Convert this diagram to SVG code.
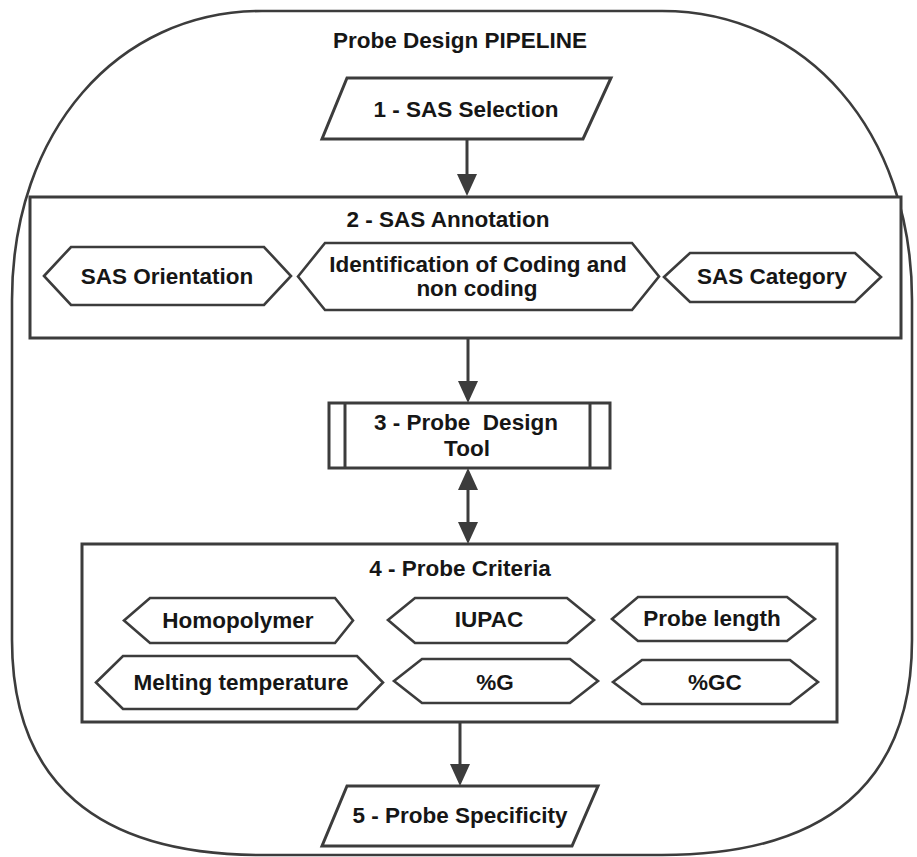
<svg xmlns="http://www.w3.org/2000/svg" width="917" height="857" viewBox="0 0 917 857">
<style>
.t{font-family:"Liberation Sans",Arial,sans-serif;font-weight:bold;font-size:22.5px;fill:#161616;text-anchor:middle}
.box{fill:#fff;stroke:#3c3c3c;stroke-width:3}
.hex{fill:#fff;stroke:#3c3c3c;stroke-width:2.6;stroke-linejoin:miter}
.con{fill:none;stroke:#3c3c3c;stroke-width:3}
</style>
<defs>
<marker id="ah" markerUnits="userSpaceOnUse" markerWidth="22" markerHeight="22" refX="0" refY="11" orient="auto-start-reverse" viewBox="0 0 22 22">
<path d="M0,1 L22,11 L0,21 Z" fill="#3c3c3c"/>
</marker>
</defs>
<rect width="917" height="857" fill="#fff"/>
<g id="frame">
<path d="M12,300 C12,132 117,11 262,11 H662 C807,11 912,132 912,300 V640 C912,782 827,855 662,855 H262 C97,855 12,782 12,640 Z" fill="none" stroke="#3c3c3c" stroke-width="2.6"/>
<text class="t" x="460" y="48">Probe Design PIPELINE</text>
</g>
<g id="n1">
<polygon class="box" points="347,78 611,78 583,139 322,139"/>
<text class="t" x="466" y="117">1 - SAS Selection</text>
</g>
<g id="n2">
<rect class="box" x="30" y="197" width="871" height="141"/>
<text class="t" x="448" y="227">2 - SAS Annotation</text>
</g>
<g id="n2a">
<polygon class="hex" points="44,276 71,247 264,247 291,276 264,305 71,305"/>
<text class="t" x="167" y="284">SAS Orientation</text>
</g>
<g id="n2b">
<polygon class="hex" points="298,276.5 325,243 632,243 659,276.5 632,310 325,310"/>
<text class="t" x="478" y="272">Identification of Coding and</text>
<text class="t" x="477" y="296">non coding</text>
</g>
<g id="n2c">
<polygon class="hex" points="664,277 690,253 855,253 881,277 855,302 690,302"/>
<text class="t" x="772" y="284">SAS Category</text>
</g>
<g id="n3">
<rect class="box" x="329" y="403" width="281" height="65"/>
<line class="con" x1="345" y1="403" x2="345" y2="468"/>
<line class="con" x1="590" y1="403" x2="590" y2="468"/>
<text class="t" x="466" y="430" xml:space="preserve">3 - Probe  Design</text>
<text class="t" x="467" y="456">Tool</text>
</g>
<g id="n4">
<rect class="box" x="82" y="544" width="755" height="178"/>
<text class="t" x="460" y="576">4 - Probe Criteria</text>
</g>
<g id="n4a">
<polygon class="hex" points="124,620.5 150,598 335,598 353,620.5 335,643 150,643"/>
<text class="t" x="238" y="628">Homopolymer</text>
</g>
<g id="n4b">
<polygon class="hex" points="388,620 415,598 567,598 594,620 567,643 415,643"/>
<text class="t" x="489" y="627">IUPAC</text>
</g>
<g id="n4c">
<polygon class="hex" points="612,619 638,597 787,597 815,619 787,641 638,641"/>
<text class="t" x="712" y="626">Probe length</text>
</g>
<g id="n4d">
<polygon class="hex" points="96,682.5 123,656 357,656 383,682.5 357,709 123,709"/>
<text class="t" x="241" y="690">Melting temperature</text>
</g>
<g id="n4e">
<polygon class="hex" points="394,681 422,659 570,659 598,681 570,703 422,703"/>
<text class="t" x="495" y="690">%G</text>
</g>
<g id="n4f">
<polygon class="hex" points="613,682 642,660 790,660 818,682 790,704 642,704"/>
<text class="t" x="715" y="690">%GC</text>
</g>
<g id="n5">
<polygon class="box" points="347,786 598,786 572,846 322,846"/>
<text class="t" x="460" y="823">5 - Probe Specificity</text>
</g>
<g id="connectors">
<path class="con" d="M467,139 V174" marker-end="url(#ah)"/>
<path class="con" d="M468,338 V381" marker-end="url(#ah)"/>
<path class="con" d="M468,490 V522" marker-start="url(#ah)" marker-end="url(#ah)"/>
<path class="con" d="M460,722 V764" marker-end="url(#ah)"/>
</g>
</svg>
